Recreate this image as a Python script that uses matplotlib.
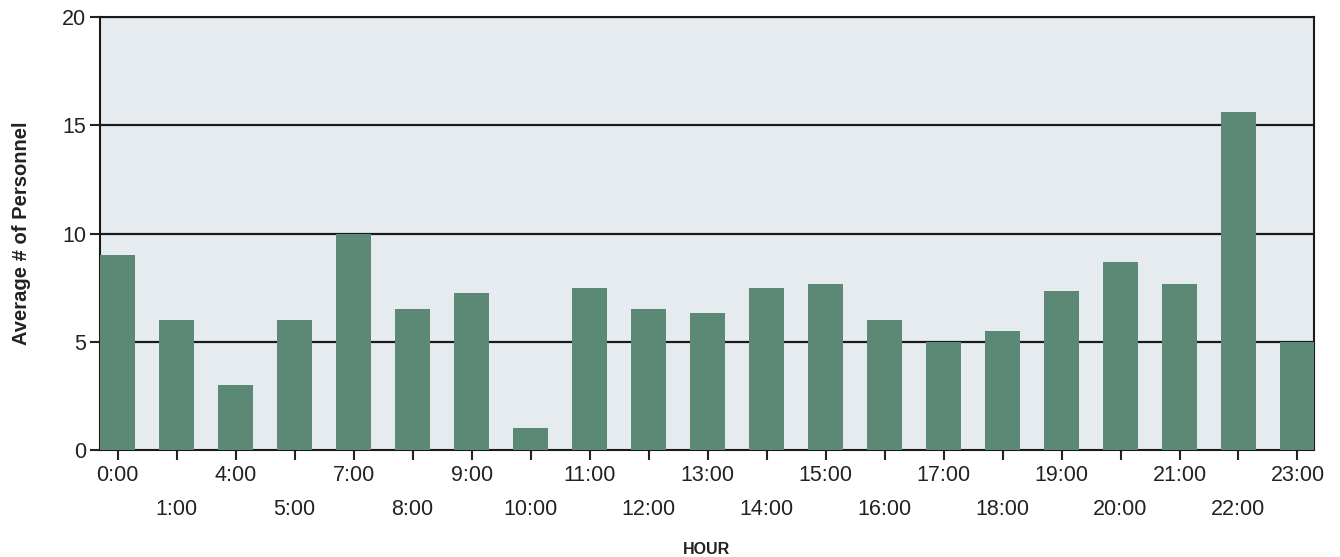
import matplotlib.pyplot as plt

plt.rcParams['font.family'] = ['Liberation Sans', 'DejaVu Sans']

hours = ['0:00', '1:00', '4:00', '5:00', '7:00', '8:00', '9:00', '10:00', '11:00',
         '12:00', '13:00', '14:00', '15:00', '16:00', '17:00', '18:00', '19:00',
         '20:00', '21:00', '22:00', '23:00']
personnel = [9, 6, 3, 6, 10, 6.5, 7.25, 1, 7.5, 6.5, 6.33, 7.5, 7.67, 6, 5, 5.5,
             7.33, 8.67, 7.67, 15.6, 5]

fig = plt.figure(figsize=(13.4, 5.57), dpi=100)
ax = fig.add_axes([0.0746, 0.192, 0.906, 0.7775])
ax.set_facecolor('#e6ebf0')

x = range(len(hours))
ax.bar(x, personnel, width=0.6, color='#5c8876', zorder=3)

# gridlines behind bars
for yv in [5, 10, 15, 20]:
    ax.axhline(yv, color='#1a1a1a', lw=1.6, zorder=1)

ax.set_ylim(0, 20)
ax.set_xlim(-0.3, len(hours) - 0.72)
ax.set_yticks([0, 5, 10, 15, 20])

# alternate the labels on two rows
labels = [h if i % 2 == 0 else '\n' + h for i, h in enumerate(hours)]
ax.set_xticks(list(x))
ax.set_xticklabels(labels, linespacing=1.8)

ax.tick_params(axis='both', labelsize=15.5, length=7, width=1.5, color='#222222',
               labelcolor='#222222', direction='out')
ax.tick_params(axis='x', pad=4)
ax.tick_params(axis='y', pad=3)

for s in ax.spines.values():
    s.set_color('#1a1a1a')
    s.set_linewidth(1.5)

ax.set_ylabel('Average # of Personnel', fontsize=14.5, fontweight='bold',
              color='#222222', labelpad=22)
ax.set_xlabel('HOUR', fontsize=11.5, fontweight='bold', color='#222222',
              labelpad=16)

fig.savefig('out.png', dpi=100)
